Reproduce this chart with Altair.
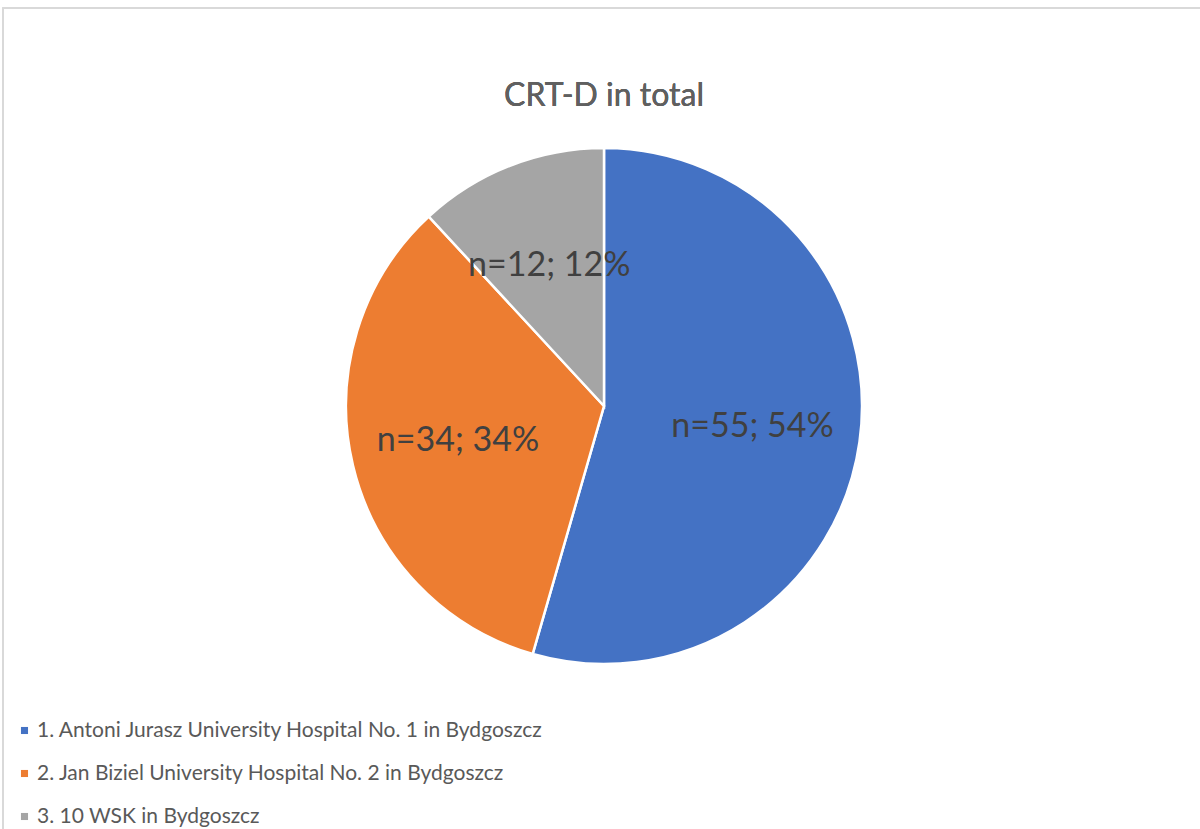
import altair as alt
import pandas as pd

# CRT-D implantations per hospital
hospitals = [
    "1. Antoni Jurasz University Hospital No. 1 in Bydgoszcz",
    "2. Jan Biziel University Hospital No. 2 in Bydgoszcz",
    "3. 10 WSK in Bydgoszcz",
]
counts = [55, 34, 12]
percents = [54, 34, 12]
colors = ["#4472C4", "#ED7D31", "#A5A5A5"]

df = pd.DataFrame({
    "hospital": hospitals,
    "n": counts,
    "pct": percents,
    "order": list(range(len(hospitals))),
})
df["label"] = [f"n={n}; {p}%" for n, p in zip(df["n"], df["pct"])]

W, H = 1200, 829
CX, CY, R = 604, 406, 258

base = alt.Chart(df).encode(
    theta=alt.Theta("n:Q", stack=True),
    order=alt.Order("order:Q"),
)

pie = base.mark_arc(radius=R, stroke="white", strokeWidth=2.5).encode(
    color=alt.Color(
        "hospital:N",
        scale=alt.Scale(domain=hospitals, range=colors),
        sort=hospitals,
        legend=alt.Legend(
            title=None,
            orient="none",
            legendX=14,
            legendY=720,
            symbolType="square",
            symbolSize=50,
            symbolStrokeWidth=0,
            labelFont="Lato",
            labelFontSize=21,
            labelColor="#595959",
            labelLimit=800,
            rowPadding=21,
            labelOffset=2,
        ),
    ),
    x=alt.value(CX),
    y=alt.value(CY),
)

labels = base.mark_text(
    radius=150, font="Lato", fontSize=34, color="#404040"
).encode(
    text="label:N",
    x=alt.value(CX),
    y=alt.value(CY),
)

title = alt.Chart(df).mark_text(
    font="Lato", fontSize=32, color="#606060"
).encode(
    x=alt.value(CX),
    y=alt.value(96),
    text=alt.value("CRT-D in total"),
)

frame = alt.Chart(df).mark_rect(
    fill=None, stroke="#D9D9D9", strokeWidth=1.5
).encode(
    x=alt.value(3), x2=alt.value(W + 10),
    y=alt.value(8), y2=alt.value(H + 10),
)

chart = alt.layer(frame, pie, labels, title).properties(
    width=W, height=H, padding=0,
    autosize=alt.AutoSizeParams(type="none"),
    background="white",
).configure_view(stroke=None)

chart.save("out.html", embed_options={"renderer": "svg", "actions": False})
